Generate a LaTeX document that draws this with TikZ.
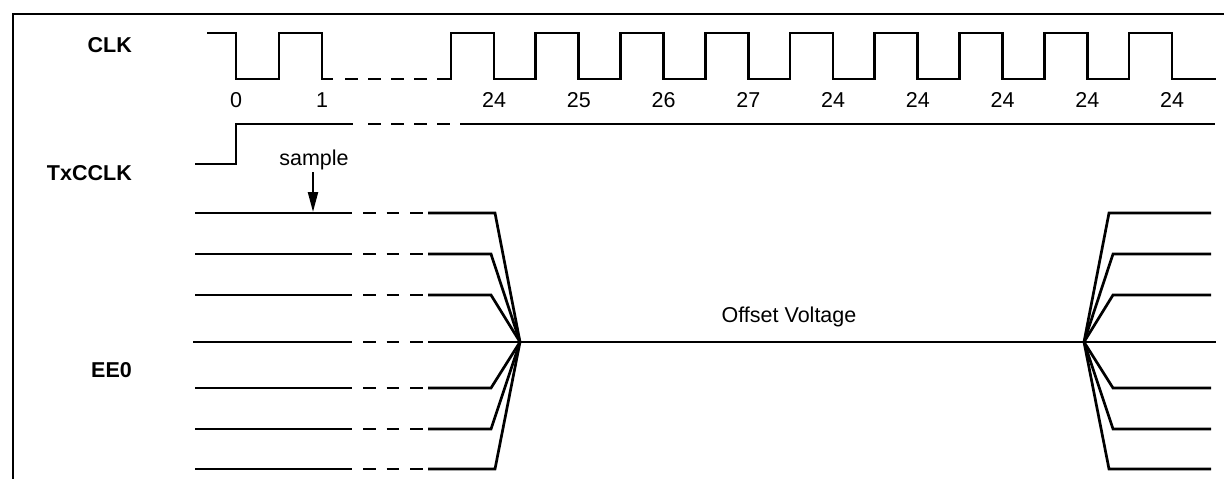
\documentclass[tikz,border=0pt]{standalone}
\usepackage{fontspec}
\setmainfont{Liberation Sans}
\usepackage{tikz}
\usetikzlibrary{positioning}
\usetikzlibrary{arrows.meta}

\begin{document}
\begin{tikzpicture}
		[x=1pt, y=-1pt, font=\fontsize{21.5}{25}\selectfont,
		wave/.style={line width=2.7pt},
		gapwave/.style={wave, dash pattern=on 13pt off 10pt},
		signame/.style={font=\fontsize{21.5}{25}\selectfont\bfseries, anchor=base east, inner sep=0pt},
		tick/.style={anchor=base, inner sep=0pt}]
		\useasboundingbox (0,0) rectangle (1224,479);
		% frame
		\draw[line width=1.6pt] (13,479) -- (13,14) -- (1224,14);
		% signal names
		\node[signame] (clk) at (132,52) {CLK};
		\node[signame] (txcclk) at (132,180) {TxCCLK};
		\node[signame] (ee0) at (132,377) {EE0};
		% CLK
		\draw[wave] (207,33) -- (236,33) -- (236,79) -- (279,79) -- (279,33) -- (322,33) -- (322,79) -- (333,79);
		\draw[gapwave] (345,79) -- (450,79);
		\draw[wave] (450,79)
			\foreach \k in {0,...,8} {
				-- ({451+84.75*\k},79) -- ({451+84.75*\k},33)
				-- ({494+84.75*\k},33) -- ({494+84.75*\k},79)
			} -- (1216,79);
		\node[tick] (c0) at (236,107) {0};
		\node[tick] (c1) at (322,107) {1};
		\foreach \n [count=\k from 0] in {24,25,26,27,24,24,24,24,24}
			\node[tick] (c\k) at ({494+84.75*\k},107) {\n};
		% TxCCLK
		\draw[wave] (195,164) -- (236,164) -- (236,124) -- (353,124);
		\draw[gapwave] (368,124) -- (450,124);
		\draw[wave] (460,124) -- (1215,124);
		\node[tick] (sample) at (314,165) {sample};
		\coordinate (hit) at (313,212);
		\draw[line width=2.2pt, -{Triangle[length=20pt, width=10pt]}] (313,172) -- (hit);
		% EE0
		\coordinate (left) at (520,342);
		\coordinate (right) at (1084,342);
		\foreach \y/\dl/\dr in {213/495/1109, 254/491/1113, 295/491/1113, 388/491/1113, 429/491/1113, 469/495/1109} {
			\draw[wave] (195,\y) -- (352,\y);
			\draw[wave, dash pattern=on 12.5pt off 11pt] (363,\y) -- (423,\y);
			\draw[wave] (428,\y) -- (\dl,\y) -- (left);
			\draw[wave] (right) -- (\dr,\y) -- (1211,\y);
		}
		\draw[wave] (193,342) -- (352,342);
		\draw[wave, dash pattern=on 12.5pt off 11pt] (363,342) -- (423,342);
		\draw[wave] (428,342) -- (left) -- (right) -- (1216,342);
		\node[tick] (offset) at (789,322) {Offset Voltage};
	\end{tikzpicture}
\end{document}
